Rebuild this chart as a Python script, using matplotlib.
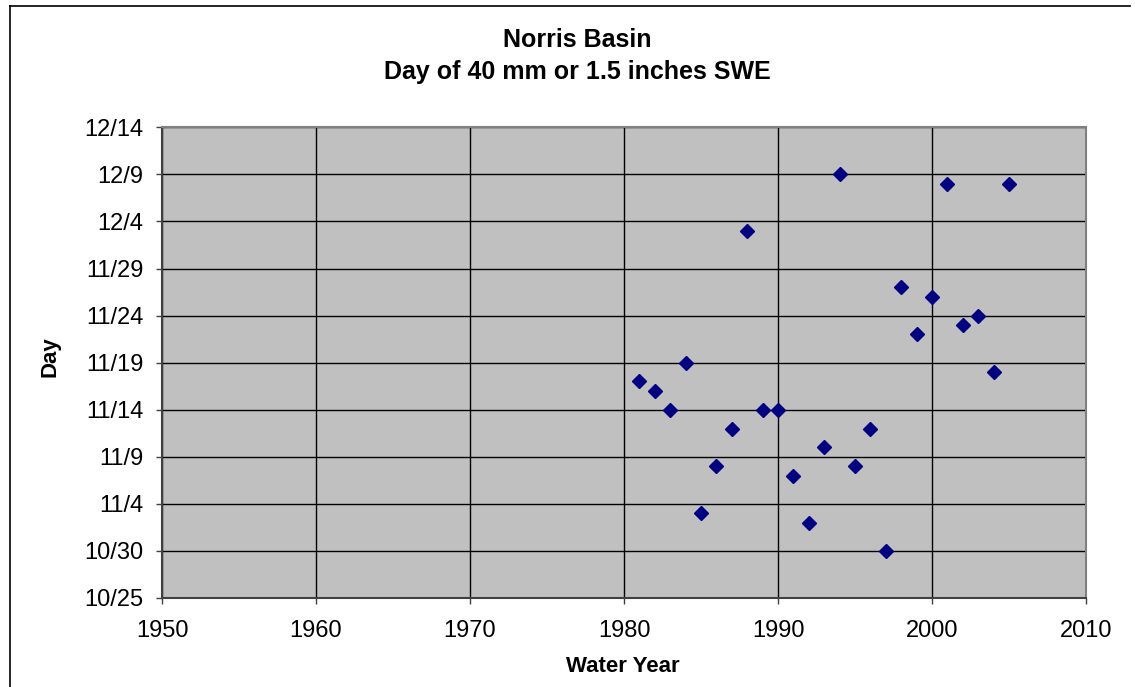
import matplotlib
matplotlib.use("Agg")
import matplotlib.pyplot as plt
import matplotlib.dates as mdates
import pandas as pd
from matplotlib.lines import Line2D

# Water year and the day (month/day) on which SWE reached 40 mm
years = [1981, 1982, 1983, 1984, 1985, 1986, 1987, 1988, 1989, 1990,
         1991, 1992, 1993, 1994, 1995, 1996, 1997, 1998, 1999, 2000,
         2001, 2002, 2003, 2004, 2005]
days = ["11/17", "11/16", "11/14", "11/19", "11/3", "11/8", "11/12", "12/3", "11/14", "11/14",
        "11/7", "11/2", "11/10", "12/9", "11/8", "11/12", "10/30", "11/27", "11/22", "11/26",
        "12/8", "11/23", "11/24", "11/18", "12/8"]

title = "Norris Basin\nDay of 40 mm or 1.5 inches SWE"
x_label = "Water Year"
y_label = "Day"
x_ticks = [1950, 1960, 1970, 1980, 1990, 2000, 2010]

# any fixed year works, only month/day is shown
dates = pd.to_datetime(["2000/" + d for d in days])
y_start = pd.Timestamp("2000-10-25")
y_end = pd.Timestamp("2000-12-14")

plt.rcParams['font.family'] = ['Liberation Sans', 'DejaVu Sans']

W, H = 1135, 687
fig = plt.figure(figsize=(W / 100, H / 100), dpi=100)
ax = fig.add_axes([162 / W, 1 - 598 / H, (1086 - 162) / W, (598 - 127.3) / H])
ax.set_facecolor("#C0C0C0")

ax.plot(years, dates, linestyle="none", marker="D", markersize=7.5,
        color="#000080", markeredgecolor="#000080", zorder=3)

ax.set_xlim(1950, 2010)
ax.set_xticks(x_ticks)
ax.set_ylim(y_start, y_end)
ax.set_yticks(pd.date_range(y_start, y_end, freq="5D"))
ax.yaxis.set_major_formatter(
    plt.FuncFormatter(lambda v, pos: "{}/{}".format(mdates.num2date(v).month, mdates.num2date(v).day)))

ax.grid(True, color="black", linewidth=1.0)
ax.set_axisbelow(True)
for side in ["top", "right"]:
    ax.spines[side].set_color("#808080")
    ax.spines[side].set_linewidth(1.5)
for side in ["left", "bottom"]:
    ax.spines[side].set_color("#404040")
    ax.spines[side].set_linewidth(1.5)

ax.tick_params(axis="both", direction="out", length=4.5, width=1, color="#404040",
               labelsize=17)
ax.tick_params(axis="y", pad=9)
ax.tick_params(axis="x", pad=11)

ax.set_xlabel(x_label, fontsize=16, fontweight="bold")
ax.set_ylabel(y_label, fontsize=16, fontweight="bold")
ax.xaxis.set_label_coords((623 - 162) / 924, (598 - 656) / 470.7)
ax.yaxis.set_label_coords((61 - 162) / 924, (598 - 357) / 470.7)

fig.text(577 / W, 1 - 56 / H, title, ha="center", va="center", fontsize=18,
         fontweight="bold", linespacing=1.4)

# outer chart border (top and left visible)
fig.add_artist(Line2D([10 / W, 1130 / W], [1 - 6 / H, 1 - 6 / H],
                      transform=fig.transFigure, color="black", linewidth=1.2))
fig.add_artist(Line2D([10 / W, 10 / W], [0, 1 - 6 / H],
                      transform=fig.transFigure, color="black", linewidth=1.2))

fig.savefig("out.png", dpi=100)
